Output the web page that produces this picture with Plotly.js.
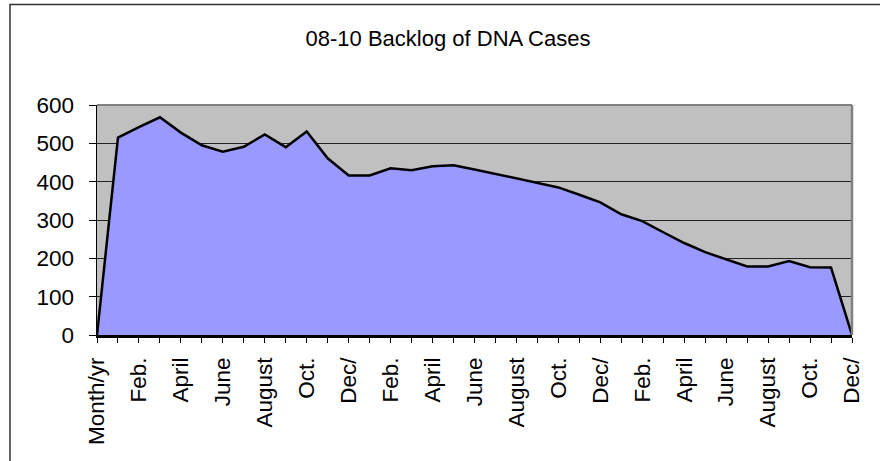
<!DOCTYPE html>
<html>
<head>
<meta charset="utf-8">
<script src="https://cdn.plot.ly/plotly-3.0.1.min.js"></script>
<style>
html, body { margin: 0; padding: 0; background: #ffffff; }
#chart { width: 880px; height: 461px; }
</style>
</head>
<body>
<div id="chart"></div>
<script>
// Category labels (Excel shows every other one)
const categories = [
  "Month/yr", "Jan.", "Feb.", "March", "April", "May", "June", "July", "August", "Sept.", "Oct.", "Nov.", "Dec/",
  "Jan.", "Feb.", "March", "April", "May", "June", "July", "August", "Sept.", "Oct.", "Nov.", "Dec/",
  "Jan.", "Feb.", "March", "April", "May", "June", "July", "August", "Sept.", "Oct.", "Nov.", "Dec/"
];

// Backlog of DNA cases
const backlog = [
  0, 515, 542, 568, 528, 495, 478, 491, 523, 490, 531, 461, 416,
  416, 435, 430, 440, 443, 432, 420, 408, 397, 385, 366, 346,
  315, 297, 268, 240, 216, 198, 179, 179, 193, 177, 176, 0
];

const yTicks = [0, 100, 200, 300, 400, 500, 600];

const idx = categories.map((c, i) => i);
const shownLabels = categories.map((c, i) => (i % 2 === 0 ? c : ""));

const trace = {
  x: idx,
  y: backlog,
  type: "scatter",
  mode: "lines",
  fill: "tozeroy",
  fillcolor: "#9999FF",
  line: { color: "#000000", width: 2.5 },
  hoverinfo: "skip"
};

const font = "Liberation Sans, Arial, sans-serif";

const layout = {
  width: 880,
  height: 461,
  margin: { l: 97, r: 28, t: 105, b: 126 },
  paper_bgcolor: "#ffffff",
  plot_bgcolor: "#C0C0C0",
  showlegend: false,
  title: {
    text: "08-10 Backlog of DNA Cases",
    font: { family: font, size: 22, color: "#000000" },
    xref: "container", x: 448 / 880, xanchor: "center",
    yref: "container", y: 1 - 38.5 / 461, yanchor: "middle"
  },
  xaxis: {
    range: [0, idx[idx.length - 1]],
    tickmode: "array",
    tickvals: idx,
    ticktext: shownLabels,
    tickangle: -90,
    ticks: "outside",
    ticklen: 5,
    tickwidth: 1,
    tickcolor: "#000000",
    ticklabelstandoff: 6,
    showgrid: false,
    zeroline: false,
    showline: true,
    linecolor: "#000000",
    linewidth: 2.5,
    tickfont: { family: font, size: 22.5, color: "#000000" },
    fixedrange: true
  },
  yaxis: {
    range: [0, 600],
    tickmode: "array",
    tickvals: yTicks,
    ticktext: yTicks.map(String),
    ticks: "outside",
    ticklen: 7,
    tickwidth: 1,
    tickcolor: "#000000",
    ticklabelstandoff: 10,
    showgrid: true,
    gridcolor: "#222222",
    gridwidth: 1,
    zeroline: false,
    showline: true,
    linecolor: "#000000",
    linewidth: 1.5,
    tickfont: { family: font, size: 22.5, color: "#000000" },
    fixedrange: true
  },
  shapes: [
    // plot area border (top & right, grey)
    { type: "line", xref: "paper", yref: "paper", x0: 0, x1: 1, y0: 1, y1: 1,
      line: { color: "#808080", width: 2 }, layer: "above" },
    { type: "line", xref: "paper", yref: "paper", x0: 1, x1: 1, y0: 0, y1: 1,
      line: { color: "#808080", width: 2.5 }, layer: "above" },
    // outer chart frame (partially visible)
    { type: "rect", xref: "paper", yref: "paper",
      x0: (10 - 97) / 755, x1: 1.2, y0: -0.8, y1: (335 - 4.5) / 230,
      line: { color: "#333333", width: 1.5 }, fillcolor: "rgba(0,0,0,0)", layer: "below" }
  ]
};

Plotly.newPlot("chart", [trace], layout, { displayModeBar: false, staticPlot: true });
</script>
</body>
</html>
